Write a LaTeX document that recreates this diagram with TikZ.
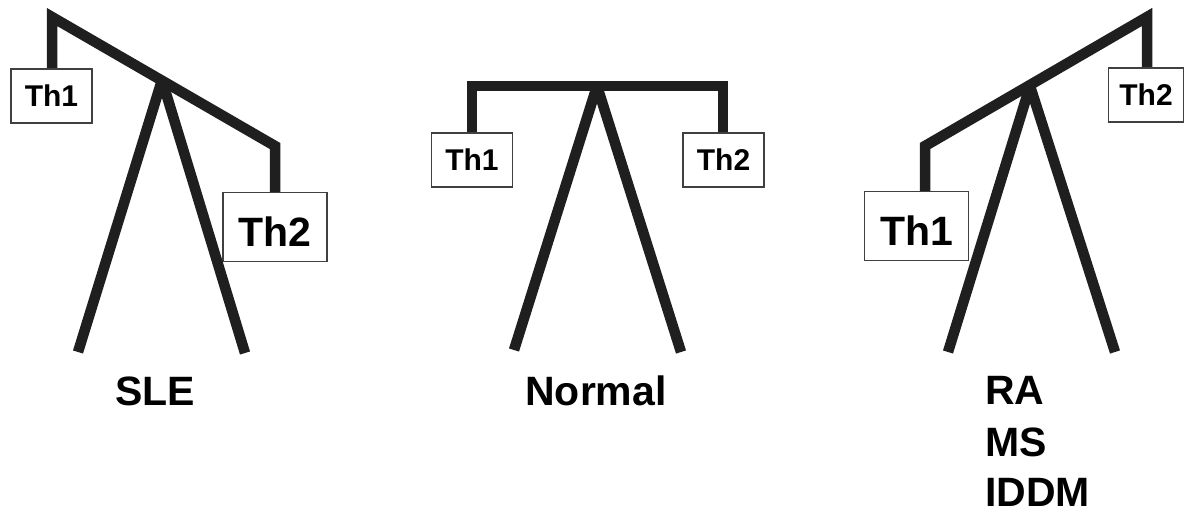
\documentclass[tikz,border=0pt]{standalone}
\usepackage{fontspec}
\setmainfont{Liberation Sans}
\begin{document}
\begin{tikzpicture}[x=1pt,y=-1pt,
  beam/.style={line width=10.5pt, draw=black!88, line join=miter},
  leg/.style={line width=10.5pt, draw=black!88},
  smallbox/.style={draw=black!75, line width=1.8pt, fill=white, inner sep=0pt,
    minimum width=81pt, minimum height=54pt, font=\fontsize{30}{30}\bfseries\selectfont},
  bigbox/.style={draw=black!75, line width=1.8pt, fill=white, inner sep=0pt,
    minimum width=104pt, minimum height=69pt, text height=38pt, text depth=0pt,
    font=\fontsize{41}{41}\bfseries\selectfont},
  lbl/.style={inner sep=0pt, font=\fontsize{41}{41}\bfseries\selectfont}]
\useasboundingbox (0,0) rectangle (1185,511);

% ---------- SLE ----------
\coordinate (Sc1) at (52,17);
\coordinate (Sc2) at (275,146);
\coordinate (Sp) at (162,80);
\coordinate (Sl) at (78,352);
\coordinate (Sr) at (245,353);
\draw[beam] (52,69) -- (Sc1) -- (Sc2) -- (275,192);
\node[smallbox] (S1) at (51.5,96) {Th1};
\node[bigbox] (S2) at (275,227) {Th2};
\draw[leg] (Sp) -- (Sl);
\draw[leg] (Sp) -- (Sr);
\node[lbl, anchor=base] (Slab) at (155,405) {SLE};

% ---------- Normal ----------
\coordinate (Nc1) at (472,86);
\coordinate (Nc2) at (723,86);
\coordinate (Np) at (597,86);
\coordinate (Nl) at (514,350);
\coordinate (Nr) at (681,352);
\draw[beam] (472,133) -- (Nc1) -- (Nc2) -- (723,133);
\node[smallbox] (N1) at (472,160) {Th1};
\node[smallbox] (N2) at (723.5,160) {Th2};
\draw[leg] (Np) -- (Nl);
\draw[leg] (Np) -- (Nr);
\node[lbl, anchor=base] (Nlab) at (596,405) {Normal};

% ---------- RA / MS / IDDM ----------
\coordinate (Rc1) at (1147,17);
\coordinate (Rc2) at (925,146);
\coordinate (Rp) at (1030,86);
\coordinate (Rl) at (948,352);
\coordinate (Rr) at (1115,352);
\draw[beam] (1147,68) -- (Rc1) -- (Rc2) -- (925,192);
\node[smallbox, minimum width=75pt] (R2) at (1146,95) {Th2};
\node[bigbox] (R1) at (916.5,226) {Th1};
\draw[leg] (Rp) -- (Rl);
\draw[leg] (Rp) -- (Rr);
\node[lbl, anchor=base west] (Rlab1) at (985,404) {RA};
\node[lbl, anchor=base west] (Rlab2) at (985,456) {MS};
\node[lbl, anchor=base west] (Rlab3) at (985,506) {IDDM};
\end{tikzpicture}
\end{document}
